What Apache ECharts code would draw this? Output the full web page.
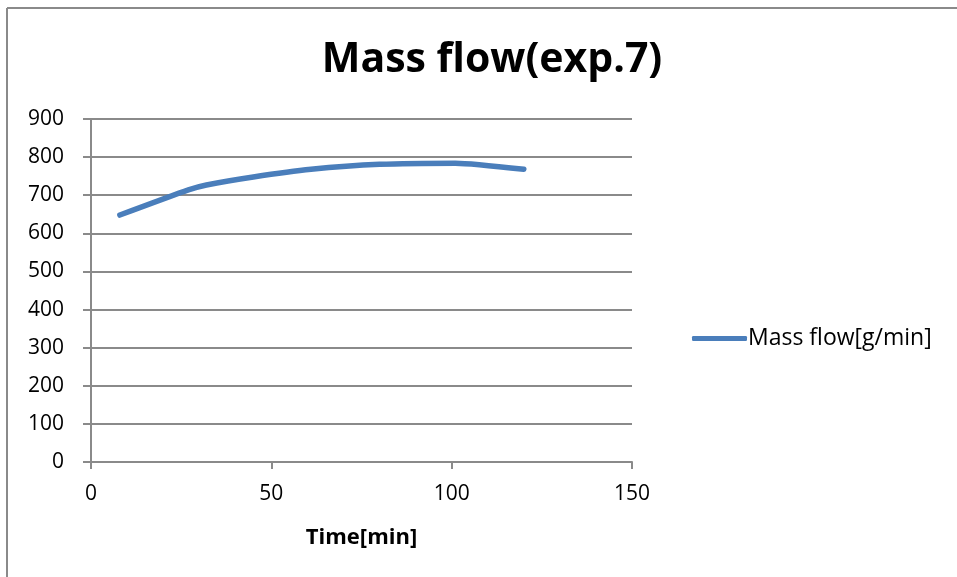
<!DOCTYPE html>
<html>
<head>
    <meta charset=utf-8>
    <title>Mass flow</title>
    <script src="https://cdn.jsdelivr.net/npm/echarts@6/dist/echarts.min.js"></script>
    <style>
        html, body { margin: 0; padding: 0; background: #fff; }
    </style>
</head>
<body>
<div id="main" style="width: 957px;height:577px;"></div>
<script type="text/javascript">
    // 时间 [min] 和 质量流量 [g/min]
    var timeMin = [8, 27, 32, 45, 61, 80, 101, 120];
    var massFlow = [648, 714, 727, 748, 768, 781, 784, 768];
    var xTicks = [0, 50, 100, 150];
    var yTicks = [0, 100, 200, 300, 400, 500, 600, 700, 800, 900];

    var points = timeMin.map(function (t, i) { return [t, massFlow[i]]; });
    var font = '"Open Sans", "DejaVu Sans", sans-serif';

    var myChart = echarts.init(document.getElementById('main'));

    var option = {
        animation: false,
        title: {
            text: 'Mass flow(exp.7)',
            left: 487,
            textAlign: 'center',
            top: 35,
            textStyle: { fontFamily: font, fontSize: 41, fontWeight: 'bold', color: '#000' }
        },
        legend: {
            data: ['Mass flow[g/min]'],
            orient: 'vertical',
            left: 687,
            top: 322,
            itemWidth: 55,
            itemHeight: 5,
            itemGap: 0,
            icon: 'roundRect',
            textStyle: { fontFamily: font, fontSize: 23, color: '#000', padding: [0, 0, 0, -4] }
        },
        grid: {
            left: 91,
            right: 325,
            top: 119,
            bottom: 115
        },
        xAxis: {
            type: 'value',
            min: xTicks[0],
            max: xTicks[xTicks.length - 1],
            interval: 50,
            name: 'Time[min]',
            nameLocation: 'middle',
            nameGap: 65,
            nameTextStyle: { fontFamily: font, fontSize: 22, fontWeight: 'bold', color: '#000' },
            axisLine: { lineStyle: { color: '#8a8a8a', width: 2 } },
            axisTick: { show: true, length: 7, lineStyle: { color: '#8a8a8a', width: 2 } },
            axisLabel: { fontFamily: font, fontSize: 21, color: '#000', margin: 22 },
            splitLine: { show: false }
        },
        yAxis: {
            type: 'value',
            min: yTicks[0],
            max: yTicks[yTicks.length - 1],
            interval: 100,
            axisLine: { show: true, lineStyle: { color: '#8a8a8a', width: 2 } },
            axisTick: { show: true, length: 8, lineStyle: { color: '#8a8a8a', width: 2 } },
            axisLabel: { fontFamily: font, fontSize: 21, color: '#000', margin: 27 },
            splitLine: { lineStyle: { color: '#8a8a8a', width: 2 } }
        },
        graphic: [
            { type: 'line', shape: { x1: 7, y1: 8, x2: 7, y2: 577 }, style: { stroke: '#8a8a8a', lineWidth: 2 } },
            { type: 'line', shape: { x1: 7, y1: 8, x2: 957, y2: 8 }, style: { stroke: '#8a8a8a', lineWidth: 2 } }
        ],
        series: [
            {
                name: 'Mass flow[g/min]',
                type: 'line',
                data: points,
                symbol: 'none',
                smooth: 0.2,
                color: '#4a7ebb',
                lineStyle: { width: 5.5, cap: 'round', join: 'round' }
            }
        ]
    };

    myChart.setOption(option);
</script>
</body>
</html>
